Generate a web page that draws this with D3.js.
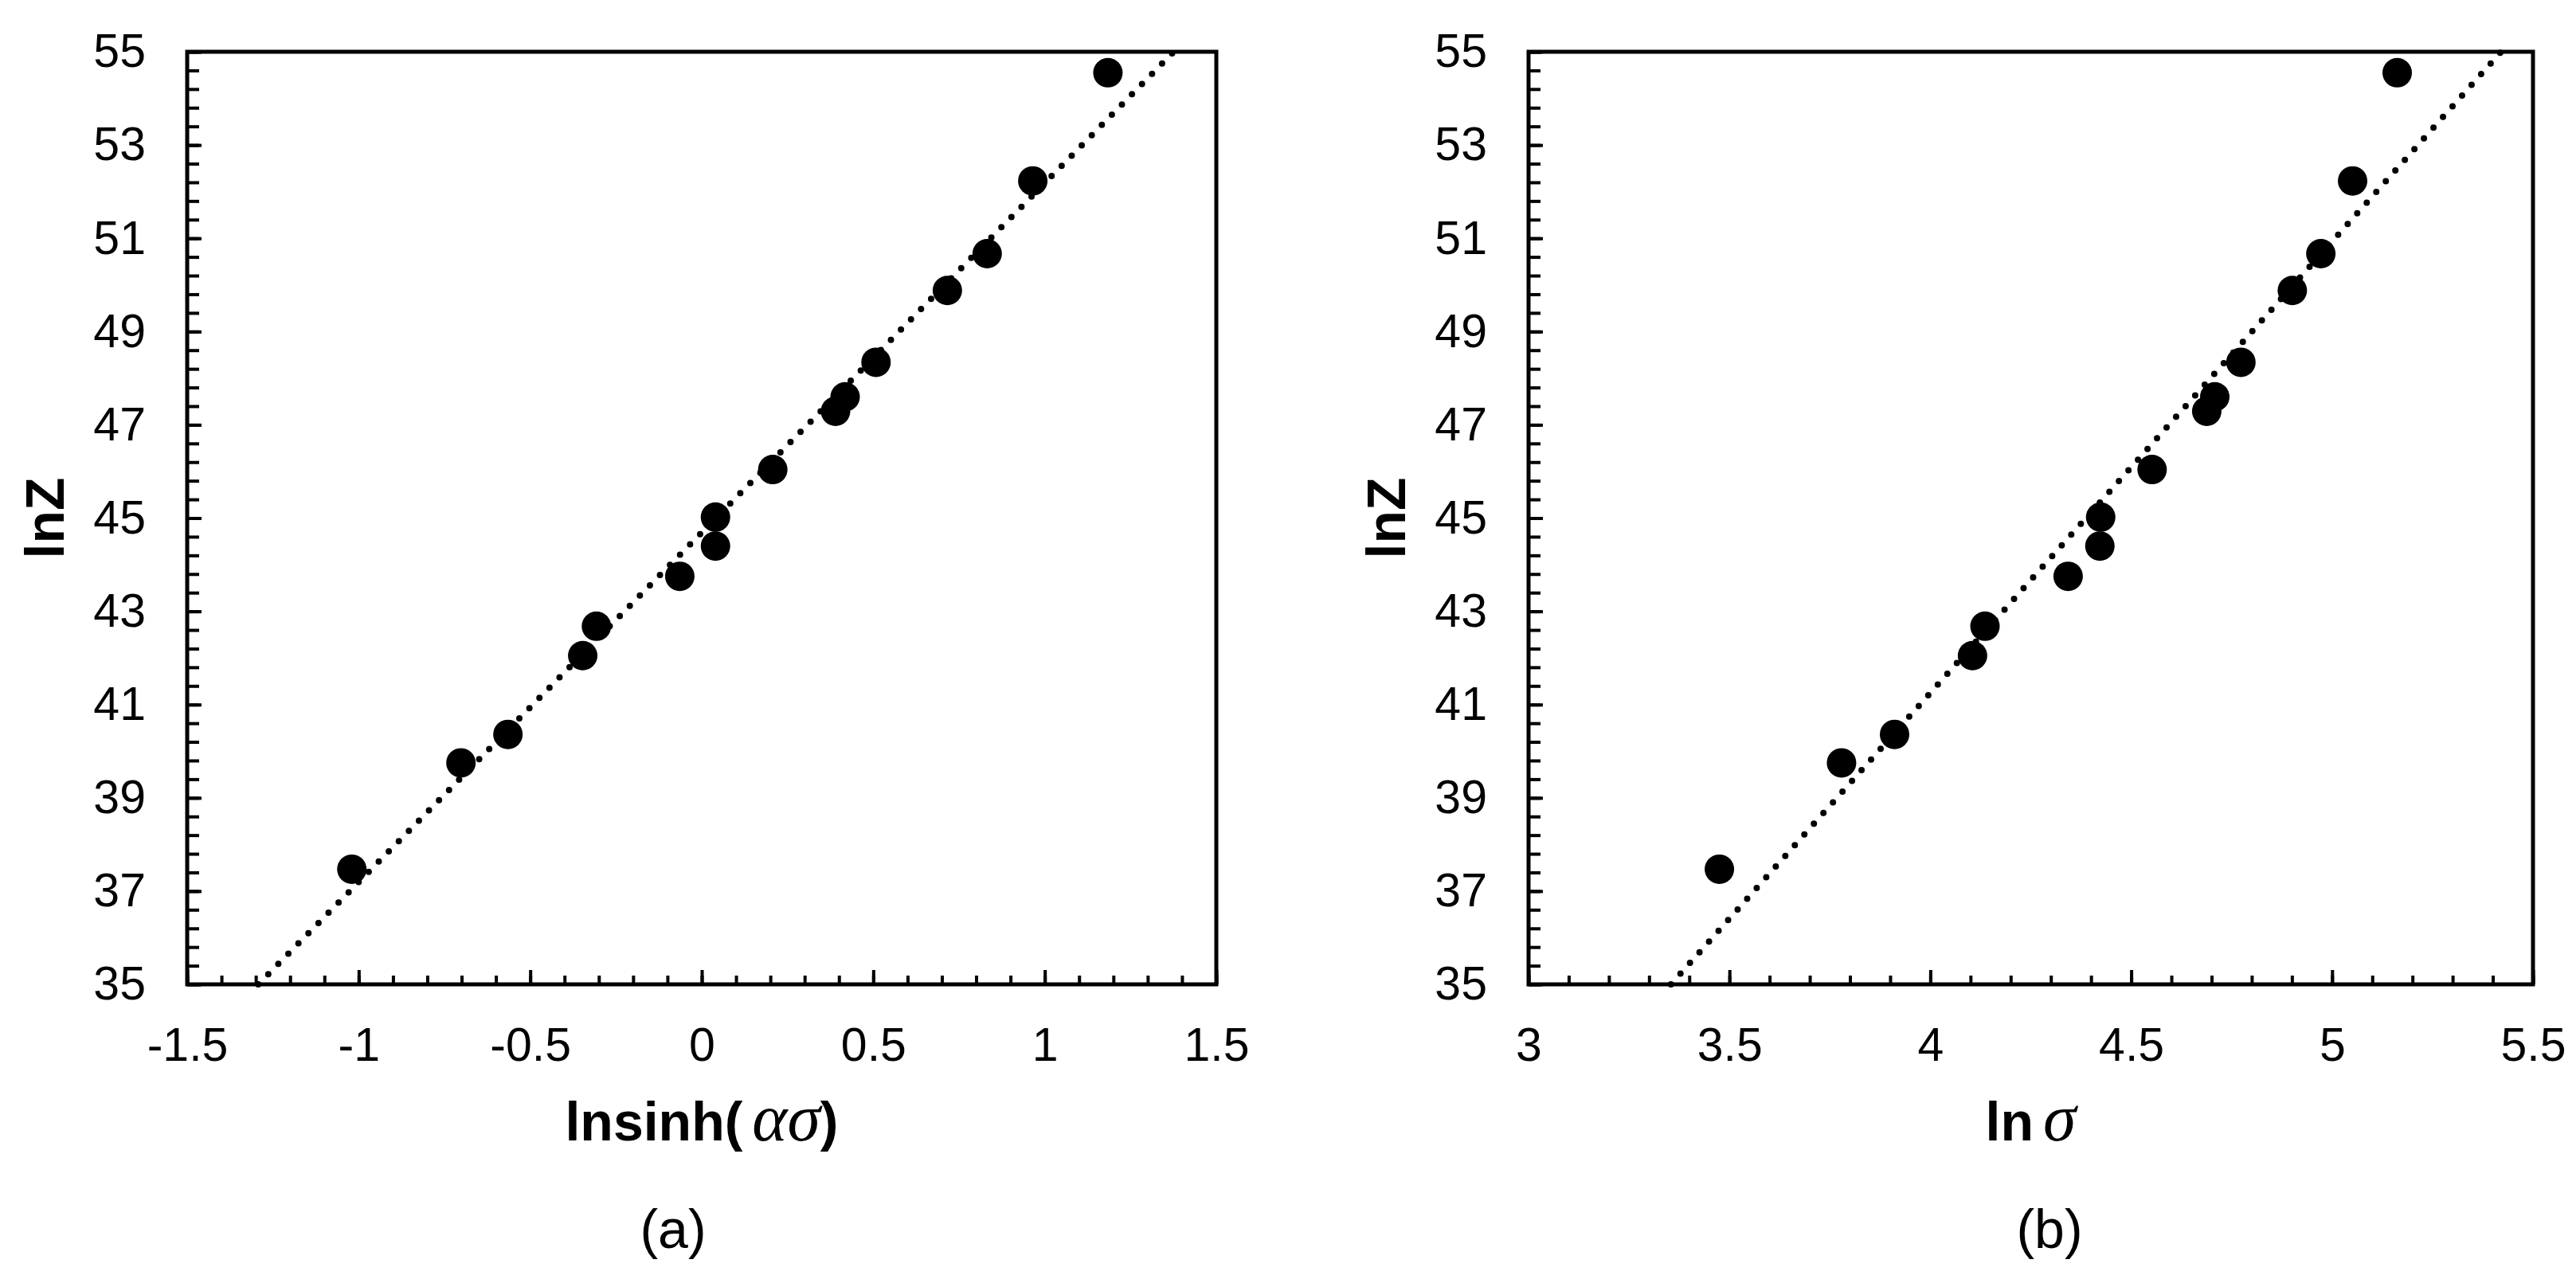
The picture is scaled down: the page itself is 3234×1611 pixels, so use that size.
<!DOCTYPE html>
<html lang="en">
  <head>
    <meta charset="UTF-8" />
    <title>lnZ plots</title>
    <style>
      body { margin: 0; background: #fff; }
      text { font-family: "Liberation Sans", Arial, sans-serif; fill: #000; }
      .tick text { font-size: 59px; }
      .greek { font-family: "Liberation Serif", "DejaVu Serif", serif; font-style: italic; font-weight: normal; font-size: 84px; }
    </style>
  </head>
  <body>
    <div id="wrapper"></div>
    <script src="https://d3js.org/d3.v7.min.js"></script>
    <script>
      // values, same lnZ for both panels
      const lnZ = [37.47, 39.75, 40.36, 42.05, 42.68, 43.75, 45.02, 44.40, 46.04, 47.29, 47.60, 48.34, 49.88, 50.67, 52.23, 54.55];
      const lnSinhAS = [-1.02, -0.702, -0.565, -0.347, -0.307, -0.064, 0.040, 0.040, 0.207, 0.390, 0.418, 0.508, 0.716, 0.832, 0.965, 1.184];
      const lnSigma = [3.475, 3.779, 3.911, 4.105, 4.136, 4.343, 4.424, 4.422, 4.552, 4.688, 4.708, 4.773, 4.901, 4.972, 5.051, 5.162];

      const yTicks = [35, 37, 39, 41, 43, 45, 47, 49, 51, 53, 55];
      const xTicksA = [-1.5, -1, -0.5, 0, 0.5, 1, 1.5];
      const xTicksB = [3, 3.5, 4, 4.5, 5, 5.5];

      // dotted trend lines: slope, intercept
      const fitA = [7.495, 44.69];
      const fitB = [9.68, 2.53];

      const W = 3234, H = 1611;
      const plotTop = 65, plotBottom = 1236;

      const svg = d3.select("#wrapper")
        .append("svg")
          .attr("width", W)
          .attr("height", H);
      svg.append("rect").attr("width", W).attr("height", H).attr("fill", "#fff");

      function drawPanel(opt) {
        const g = svg.append("g");
        const x = d3.scaleLinear().domain(opt.xDomain).range([opt.left, opt.right]);
        const y = d3.scaleLinear().domain([35, 55]).range([plotBottom, plotTop]);

        // minor ticks
        const xMinor = d3.range(opt.xDomain[0], opt.xDomain[1] + 1e-9, 0.1);
        const yMinor = d3.range(35, 55 + 1e-9, 0.4);
        g.append("g")
          .attr("transform", `translate(0,${plotBottom})`)
          .call(d3.axisBottom(x).tickValues(xMinor).tickSizeInner(-11).tickSizeOuter(0).tickFormat(""))
          .call(a => a.select(".domain").remove())
          .selectAll("line").attr("stroke-width", 4);
        g.append("g")
          .attr("transform", `translate(${opt.left},0)`)
          .call(d3.axisLeft(y).tickValues(yMinor).tickSizeInner(-15).tickSizeOuter(0).tickFormat(""))
          .call(a => a.select(".domain").remove())
          .selectAll("line").attr("stroke-width", 4);

        // major ticks + labels
        const xa = g.append("g")
          .attr("transform", `translate(0,${plotBottom})`)
          .call(d3.axisBottom(x).tickValues(opt.xTicks).tickSizeInner(-18).tickSizeOuter(0).tickPadding(54).tickFormat(d => String(d)));
        xa.select(".domain").remove();
        xa.selectAll("line").attr("stroke-width", 4);
        xa.selectAll("text").attr("font-family", null).attr("font-size", null);

        const ya = g.append("g")
          .attr("transform", `translate(${opt.left},0)`)
          .call(d3.axisLeft(y).tickValues(yTicks).tickSizeInner(-18).tickSizeOuter(0).tickPadding(52));
        ya.select(".domain").remove();
        ya.selectAll("line").attr("stroke-width", 4);
        ya.selectAll("text").attr("font-family", null).attr("font-size", null);

        // trend line, clipped to y range 35..55
        const [m, b] = opt.fit;
        const x0 = (35 - b) / m, x1 = (55 - b) / m;
        g.append("path")
          .datum([[x0, 35], [x1, 55]])
          .attr("fill", "none")
          .attr("stroke", "#000")
          .attr("stroke-width", 8)
          .attr("stroke-linecap", "round")
          .attr("stroke-dasharray", "0 18")
          .attr("d", d3.line().x(d => x(d[0])).y(d => y(d[1])));

        // points
        g.selectAll("circle")
          .data(opt.xs.map((v, i) => [v, lnZ[i]]))
          .join("circle")
            .attr("cx", d => x(d[0]))
            .attr("cy", d => y(d[1]))
            .attr("r", 18.5)
            .attr("fill", "#000");

        // frame
        g.append("rect")
          .attr("x", opt.left).attr("y", plotTop)
          .attr("width", opt.right - opt.left).attr("height", plotBottom - plotTop)
          .attr("fill", "none").attr("stroke", "#000").attr("stroke-width", 5);

        // axis titles
        g.append("text")
          .attr("transform", `translate(${opt.left - 155},${(plotTop + plotBottom) / 2}) rotate(-90)`)
          .attr("text-anchor", "middle")
          .attr("font-size", 68)
          .attr("font-weight", "bold")
          .text("lnZ");

        const xt = g.append("text")
          .attr("x", (opt.left + opt.right) / 2)
          .attr("y", 1432)
          .attr("text-anchor", "middle")
          .attr("font-size", 68)
          .attr("font-weight", "bold");
        opt.xTitle.forEach(p => {
          xt.append("tspan")
            .attr("class", p[1] ? "greek" : null)
            .attr("dx", p[1] ? 12 : null)
            .text(p[0]);
        });

        g.append("text")
          .attr("x", opt.tagX)
          .attr("y", 1567)
          .attr("text-anchor", "middle")
          .attr("font-size", 68)
          .text(opt.tag);
      }

      drawPanel({
        left: 235, right: 1527,
        xDomain: [-1.5, 1.5], xTicks: xTicksA,
        xs: lnSinhAS, fit: fitA,
        xTitle: [["lnsinh(", false], ["ασ", true], [")", false]],
        tag: "(a)", tagX: 845
      });
      drawPanel({
        left: 1919, right: 3180,
        xDomain: [3, 5.5], xTicks: xTicksB,
        xs: lnSigma, fit: fitB,
        xTitle: [["ln", false], ["σ", true]],
        tag: "(b)", tagX: 2573
      });
    </script>
  </body>
</html>
